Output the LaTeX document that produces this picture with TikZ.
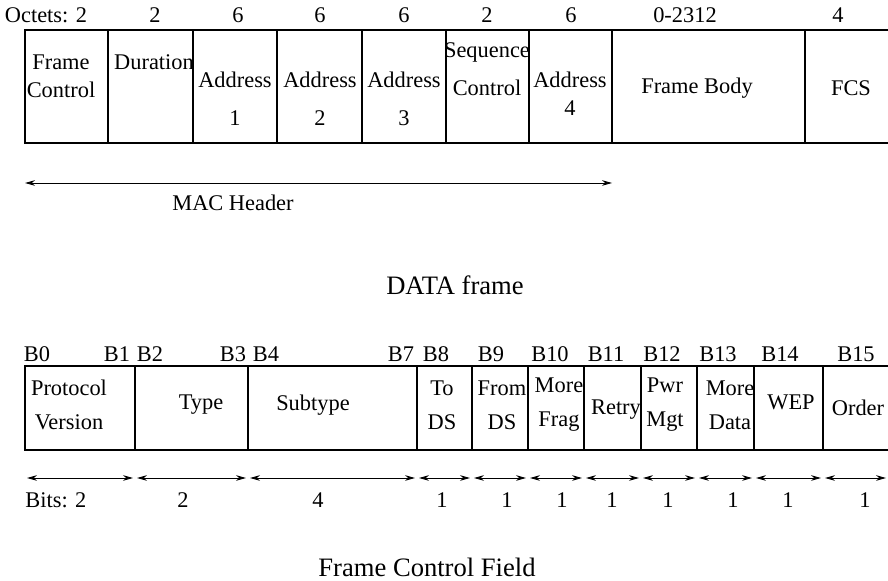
\documentclass[tikz,border=0pt]{standalone}
\usepackage{fontspec}
\setmainfont{Liberation Serif}
\usetikzlibrary{arrows.meta}

\begin{document}
\begin{tikzpicture}[x=0.5pt,y=-0.5pt,
  lbl/.style={font=\fontsize{11.2}{14}\selectfont,inner sep=0pt,align=center},
  ttl/.style={font=\fontsize{13.3}{15}\selectfont,inner sep=0pt},
  box/.style={line width=0.6pt},
  span/.style={{Stealth[length=5pt,width=2.8pt]}-{Stealth[length=5pt,width=2.8pt]},line width=0.45pt}]
\useasboundingbox (0,0) rectangle (888,581);

% DATA frame: the field boxes (open on the right)
\draw[box] (888,30) -- (25,30) -- (25,143) -- (888,143);
\foreach \x in {108,193,277,362,446,529,612,805}
  \draw[box] (\x,30) -- (\x,143);

% octet counts above the fields
\node[lbl] (octFC) at (46,15) {Octets: 2};
\foreach \x/\n/\t in {155/Dur/2,238/AdA/6,320/AdB/6,404/AdC/6,487/Seq/2,
                      571/AdD/6,685/Body/0-2312,838/Fcs/4}
  \node[lbl] (oct\n) at (\x,15) {\t};

% field names
\node[lbl] (fFC)   at (61,76)  {Frame\\Control};
\node[lbl] (fDur)  at (154,62) {Duration};
\node[lbl] (fAdA)  at (235,99) {Address\\[5pt]1};
\node[lbl] (fAdB)  at (320,99) {Address\\[5pt]2};
\node[lbl] (fAdC)  at (404,99) {Address\\[5pt]3};
\node[lbl] (fSeq)  at (487,69) {Sequence\\[5pt]Control};
\node[lbl] (fAdD)  at (570,94) {Address\\4};
\node[lbl] (fBody) at (697,88) {Frame Body};
\node[lbl] (fFcs)  at (851,88) {FCS};

% MAC header span
\coordinate (macL) at (25,183);
\coordinate (macR) at (612,183);
\draw[span] (macL) -- (macR);
\node[lbl] (macHdr) at (233,203) {MAC Header};
\node[ttl] (dataTtl) at (455,285) {DATA frame};

% Frame Control field: the bit boxes (open on the right)
\draw[box] (888,366) -- (25,366) -- (25,450) -- (888,450);
\foreach \x in {135,248,417,472,528,584,641,697,754,823}
  \draw[box] (\x,366) -- (\x,450);

% bit numbers above the boxes
\foreach \x/\t in {37/B0,117/B1,150/B2,233/B3,266/B4,401/B7,436/B8,491/B9,
                   550/B10,606/B11,662/B12,718/B13,780/B14,856/B15}
  \node[lbl] (bit\t) at (\x,354) {\t};

% bit field names
\node[lbl] (pVer)  at (69,405)  {Protocol\\[3pt]Version};
\node[lbl] (pType) at (201,405) {Type};
\node[lbl] (pSub)  at (313,405) {Subtype};
\node[lbl] (pTo)   at (442,405) {To\\[3pt]DS};
\node[lbl] (pFrom) at (502,405) {From\\[3pt]DS};
\node[lbl] (pFrag) at (559,405) {More\\[3pt]Frag};
\node[lbl] (pRetr) at (616,410) {Retry};
\node[lbl] (pPwr)  at (665,405) {Pwr\\[3pt]Mgt};
\node[lbl] (pData) at (730,405) {More\\[3pt]Data};
\node[lbl] (pWep)  at (791,402) {WEP};
\node[lbl] (pOrd)  at (858,408) {Order};

% bit widths: one span per box
\foreach \a/\b [count=\i] in {25/135,135/248,248/417,417/472,472/528,528/584,
                              584/641,641/697,697/754,754/823,823/888}{
  \coordinate (sL\i) at (\a+2,478);
  \coordinate (sR\i) at (\b-2,478);
  \draw[span] (sL\i) -- (sR\i);
}
\node[lbl,anchor=west] (bitsPV) at (25,500) {Bits: 2};
\foreach \x/\t [count=\i] in {183/2,318/4,442/1,507/1,562/1,612/1,668/1,
                              733/1,788/1,865/1}
  \node[lbl] (wd\i) at (\x,500) {\t};
\node[ttl] (fcTtl) at (427,567) {Frame Control Field};
\end{tikzpicture}
\end{document}
